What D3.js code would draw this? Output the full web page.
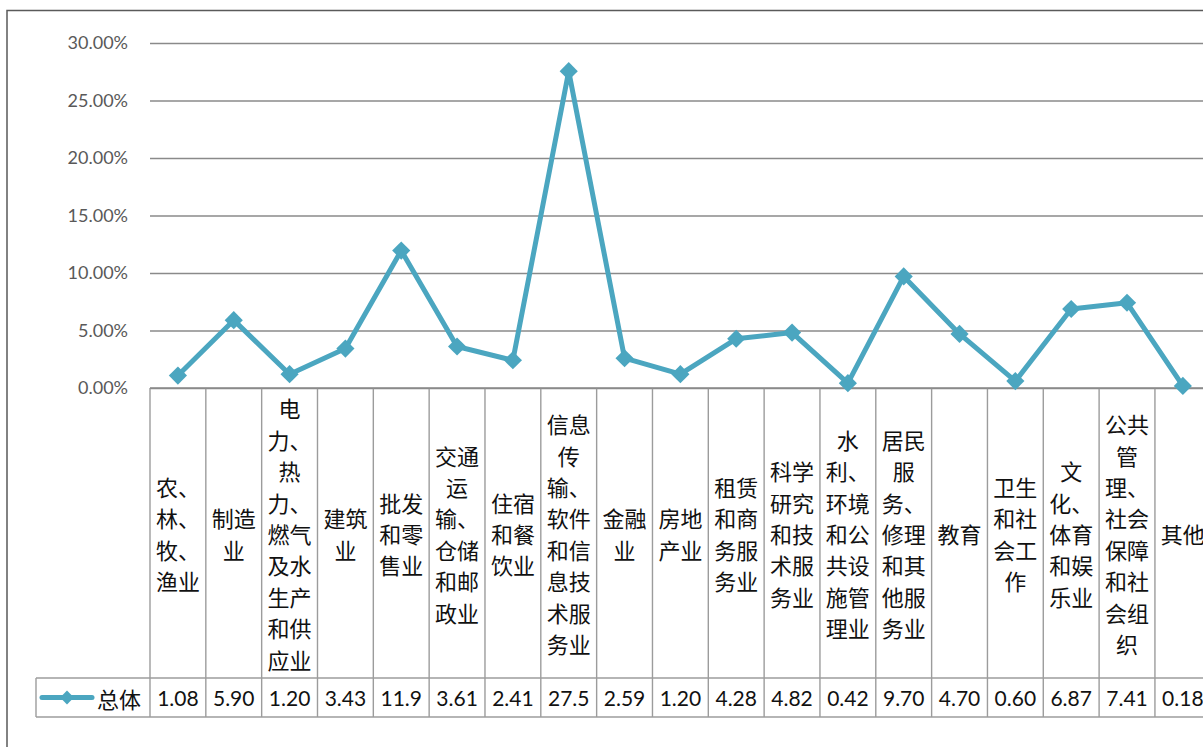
<!DOCTYPE html>
<html>
<head>
<meta charset="utf-8">
<script src="https://cdn.jsdelivr.net/npm/d3@7"></script>
<style>
  html, body { margin: 0; padding: 0; background: #fff; overflow: hidden; }
  svg { display: block; }
</style>
</head>
<body>
<svg id="chart" width="1203" height="747"></svg>
<script>
// ---- data ----
const categories = [
  "农、林、牧、渔业", "制造业", "电力、热力、燃气及水生产和供应业", "建筑业",
  "批发和零售业", "交通运输、仓储和邮政业", "住宿和餐饮业",
  "信息传输、软件和信息技术服务业", "金融业", "房地产业", "租赁和商务服务业",
  "科学研究和技术服务业", "水利、环境和公共设施管理业", "居民服务、修理和其他服务业",
  "教育", "卫生和社会工作", "文化、体育和娱乐业", "公共管理、社会保障和社会组织", "其他"
];
const seriesName = "总体";
const values = [1.08, 5.90, 1.20, 3.43, 11.95, 3.61, 2.41, 27.55, 2.59, 1.20, 4.28, 4.82, 0.42, 9.70, 4.70, 0.60, 6.87, 7.41, 0.18];
const yTicks = [0, 5, 10, 15, 20, 25, 30];

// ---- layout ----
const svg = d3.select("#chart");
const W = 1203, H = 747;
const plotLeft = 150, colW = 55.83;
const plotRight = plotLeft + categories.length * colW;
const yTop = 43, yBase = 388, tableMid = 678, tableBottom = 717;
const lineColor = "#4BA6C0";
const gridColor = "#8a8a8a";
const tableColor = "#9c9c9c";
const cjk = "'Noto Sans CJK SC', 'Noto Sans', sans-serif";
const num = "Lato, 'Open Sans', sans-serif";

const x = d3.scaleBand().domain(categories).range([plotLeft, plotRight]).padding(0);
const y = d3.scaleLinear().domain([0, 30]).range([yBase, yTop]);

// outer chart border
svg.append("path")
  .attr("d", `M7,${H} L7,10.5 L${W},10.5`)
  .attr("fill", "none").attr("stroke", "#5a5a5a").attr("stroke-width", 1.5);

// gridlines
const yAxis = d3.axisLeft(y).tickValues(yTicks)
  .tickFormat(d => d3.format(".2f")(d) + "%")
  .tickSize(-(W - plotLeft)).tickPadding(22);
const ga = svg.append("g").attr("transform", `translate(${plotLeft},0)`).call(yAxis);
ga.select(".domain").remove();
ga.selectAll(".tick line").attr("stroke", gridColor).attr("stroke-width", 1.4);
ga.selectAll(".tick text")
  .attr("fill", "#595959").attr("font-family", num).attr("font-size", 18);

// table lines
const tbl = svg.append("g");
const bounds = d3.range(categories.length + 1).map(i => plotLeft + i * colW);
tbl.selectAll("line.v").data(bounds).join("line")
  .attr("x1", d => d).attr("x2", d => d)
  .attr("y1", yBase).attr("y2", tableBottom)
  .attr("stroke", tableColor).attr("stroke-width", 1.4);
tbl.append("line").attr("x1", 36).attr("x2", 36).attr("y1", tableMid).attr("y2", tableBottom)
  .attr("stroke", tableColor).attr("stroke-width", 1.4);
[tableMid, tableBottom].forEach(yy => {
  tbl.append("line").attr("x1", 36).attr("x2", W).attr("y1", yy).attr("y2", yy)
    .attr("stroke", tableColor).attr("stroke-width", 1.4);
});
// x axis line
svg.append("line").attr("x1", plotLeft).attr("x2", W).attr("y1", yBase).attr("y2", yBase)
  .attr("stroke", gridColor).attr("stroke-width", 1.6);

// category labels, wrapped 2 chars per line, "、" may not start a line
function wrap(s) {
  const chars = Array.from(s);
  const lines = [];
  let cur = [];
  chars.forEach(c => {
    if (cur.length < 2) { cur.push(c); return; }
    if (c === "、") {
      const last = cur.pop();
      lines.push(cur);
      cur = [last, c];
    } else {
      lines.push(cur);
      cur = [c];
    }
  });
  if (cur.length) lines.push(cur);
  return lines.filter(l => l.length).map(l => l.join(""));
}
const lh = 31.4, catMid = (yBase + tableMid) / 2;
categories.forEach(c => {
  const lines = wrap(c);
  const t = svg.append("text")
    .attr("font-family", cjk).attr("font-size", 22).attr("fill", "#111")
    .attr("text-anchor", "middle");
  lines.forEach((ln, i) => {
    t.append("tspan")
      .attr("x", x(c) + x.bandwidth() / 2)
      .attr("y", catMid + (i - (lines.length - 1) / 2) * lh)
      .attr("dominant-baseline", "central")
      .text(ln);
  });
});

// value row
const valMid = (tableMid + tableBottom) / 2;
svg.selectAll("text.val").data(values).join("text")
  .attr("class", "val")
  .attr("x", (d, i) => x(categories[i]) + x.bandwidth() / 2)
  .attr("y", valMid).attr("dominant-baseline", "central")
  .attr("text-anchor", "middle")
  .attr("font-family", num).attr("font-size", 21).attr("fill", "#111")
  .text(d => d3.format(".2f")(d).slice(0, 4));

// legend cell
svg.append("line").attr("x1", 42).attr("x2", 92).attr("y1", valMid).attr("y2", valMid)
  .attr("stroke", lineColor).attr("stroke-width", 5).attr("stroke-linecap", "round");
svg.append("path").attr("d", d3.symbol().type(d3.symbolSquare).size(95)())
  .attr("transform", `translate(67,${valMid}) rotate(45)`).attr("fill", lineColor);
svg.append("text").attr("x", 97).attr("y", valMid).attr("dominant-baseline", "central")
  .attr("font-family", cjk).attr("font-size", 22).attr("fill", "#111").text(seriesName);

// line + markers
const line = d3.line()
  .x((d, i) => x(categories[i]) + x.bandwidth() / 2)
  .y(d => y(d));
svg.append("path").datum(values).attr("d", line)
  .attr("fill", "none").attr("stroke", lineColor).attr("stroke-width", 5)
  .attr("stroke-linejoin", "round");
svg.selectAll("path.mk").data(values).join("path")
  .attr("class", "mk")
  .attr("d", d3.symbol().type(d3.symbolSquare).size(165)())
  .attr("transform", (d, i) => `translate(${x(categories[i]) + x.bandwidth() / 2},${y(d)}) rotate(45)`)
  .attr("fill", lineColor);
</script>
</body>
</html>
